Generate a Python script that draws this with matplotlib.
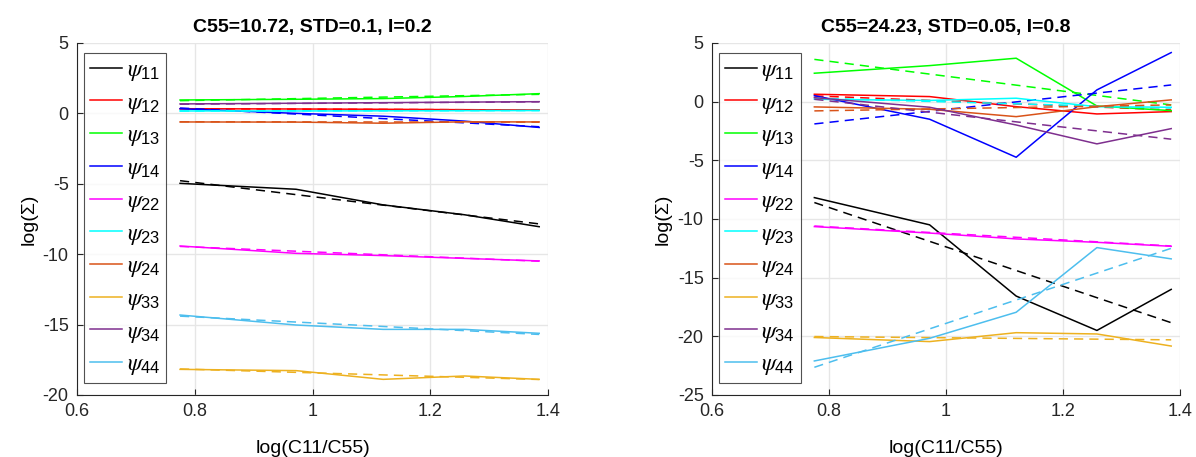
import numpy as np
import matplotlib
matplotlib.use('Agg')
import matplotlib.pyplot as plt

# ---- Data ----
x = [0.775, 0.972, 1.12, 1.258, 1.385]
x_fit = [x[0], x[-1]]

labels = [r'$\psi_{11}$', r'$\psi_{12}$', r'$\psi_{13}$', r'$\psi_{14}$', r'$\psi_{22}$',
          r'$\psi_{23}$', r'$\psi_{24}$', r'$\psi_{33}$', r'$\psi_{34}$', r'$\psi_{44}$']
colors = ['#000000', '#FF0000', '#00FF00', '#0000FF', '#FF00FF',
          '#00FFFF', '#D95319', '#EDB120', '#7E2F8E', '#4DBEEE']

# case 1: C55=10.72, STD=0.1, I=0.2
left_vals = [
    [-4.97, -5.39, -6.5, -7.2, -8.05],       # psi11
    [0.33, 0.31, 0.29, 0.26, 0.24],          # psi12
    [0.95, 1.0, 1.05, 1.2, 1.4],             # psi13
    [0.33, 0.0, -0.2, -0.55, -1.0],          # psi14
    [-9.42, -9.94, -10.1, -10.3, -10.48],    # psi22
    [0.17, 0.17, 0.18, 0.19, 0.2],           # psi23
    [-0.61, -0.62, -0.7, -0.6, -0.61],       # psi24
    [-18.18, -18.27, -18.89, -18.65, -18.89],  # psi33
    [0.67, 0.72, 0.76, 0.8, 0.83],           # psi34
    [-14.32, -15.03, -15.34, -15.34, -15.62],  # psi44
]
left_fit = [
    [-4.78, -7.85], [0.33, 0.24], [0.9, 1.35], [0.38, -0.95], [-9.45, -10.5],
    [0.17, 0.2], [-0.6, -0.62], [-18.15, -18.9], [0.65, 0.82], [-14.4, -15.7],
]

# case 2: C55=24.23, STD=0.05, I=0.8
right_vals = [
    [-8.18, -10.5, -16.57, -19.5, -16.0],    # psi11
    [0.63, 0.43, -0.43, -1.05, -0.85],       # psi12
    [2.42, 3.07, 3.7, -0.37, -0.77],         # psi13
    [0.51, -1.5, -4.74, 1.0, 4.18],          # psi14
    [-10.65, -11.2, -11.7, -11.99, -12.33],  # psi22
    [0.2, 0.1, 0.29, -0.43, -0.48],          # psi23
    [-0.45, -0.65, -1.28, -0.43, 0.15],      # psi24
    [-20.1, -20.45, -19.69, -19.8, -20.83],  # psi33
    [0.34, -0.48, -1.99, -3.6, -2.3],        # psi34
    [-22.1, -20.17, -17.95, -12.44, -13.4],  # psi44
]
right_fit = [
    [-8.6, -18.84], [0.49, -0.71], [3.6, -0.28], [-1.9, 1.42], [-10.6, -12.3],
    [0.29, -0.55], [-0.79, -0.28], [-20.02, -20.3], [0.2, -3.2], [-22.64, -12.5],
]

plt.rcParams['font.family'] = ['Liberation Sans', 'DejaVu Sans']
# serif italic greek, sans digits in subscripts
plt.rcParams['mathtext.fontset'] = 'custom'
plt.rcParams['mathtext.it'] = 'STIXGeneral:italic'
plt.rcParams['mathtext.rm'] = 'Liberation Sans'
plt.rcParams['mathtext.sf'] = 'Liberation Sans'
plt.rcParams['mathtext.default'] = 'it'


def draw_panel(ax, vals, fits, title, ylim, yticks):
    handles = []
    for v, f, c, lab in zip(vals, fits, colors, labels):
        h, = ax.plot(x, v, color=c, linewidth=1.1, label=lab)
        ax.plot(x_fit, f, color=c, linewidth=1.1, linestyle=(0, (6, 4)))
        handles.append(h)
    ax.set_xlim(0.6, 1.4)
    ax.set_ylim(*ylim)
    ax.set_xticks([0.6, 0.8, 1.0, 1.2, 1.4])
    ax.set_xticklabels(['0.6', '0.8', '1', '1.2', '1.4'])
    ax.set_yticks(yticks)
    ax.set_yticklabels([str(t) for t in yticks])
    ax.grid(True, color='#E6E6E6', linewidth=1)
    ax.set_axisbelow(True)
    for s in ['top', 'right']:
        ax.spines[s].set_visible(False)
    for s in ['left', 'bottom']:
        ax.spines[s].set_color('#262626')
    ax.tick_params(direction='in', length=4, labelsize=13, colors='#262626', pad=6)
    ax.set_xlabel('log(C11/C55)', fontsize=14, labelpad=14)
    ax.set_ylabel('log(\u03a3)', fontsize=14, labelpad=4)
    ax.set_title(title, fontsize=14, fontweight='bold', pad=8)
    h_ax = ax.get_window_extent().height
    w_ax = ax.get_window_extent().width
    leg = ax.legend(handles=handles, loc='upper left', fontsize=17, frameon=True,
                    fancybox=False, edgecolor='#262626', handlelength=1.35,
                    labelspacing=0.37, borderpad=0.25, handletextpad=0.2,
                    borderaxespad=0, bbox_to_anchor=(7 / w_ax, 1 - 10 / h_ax))
    leg.get_frame().set_linewidth(0.8)


fig = plt.figure(figsize=(11.96, 4.57), dpi=100)
ax1 = fig.add_axes([0.0644, 0.1357, 0.3938, 0.7703])
ax2 = fig.add_axes([0.5953, 0.1357, 0.3913, 0.7703])

draw_panel(ax1, left_vals, left_fit, 'C55=10.72, STD=0.1, I=0.2', (-20, 5),
           [-20, -15, -10, -5, 0, 5])
draw_panel(ax2, right_vals, right_fit, 'C55=24.23, STD=0.05, I=0.8', (-25, 5),
           [-25, -20, -15, -10, -5, 0, 5])

fig.savefig('out.png', dpi=100)
